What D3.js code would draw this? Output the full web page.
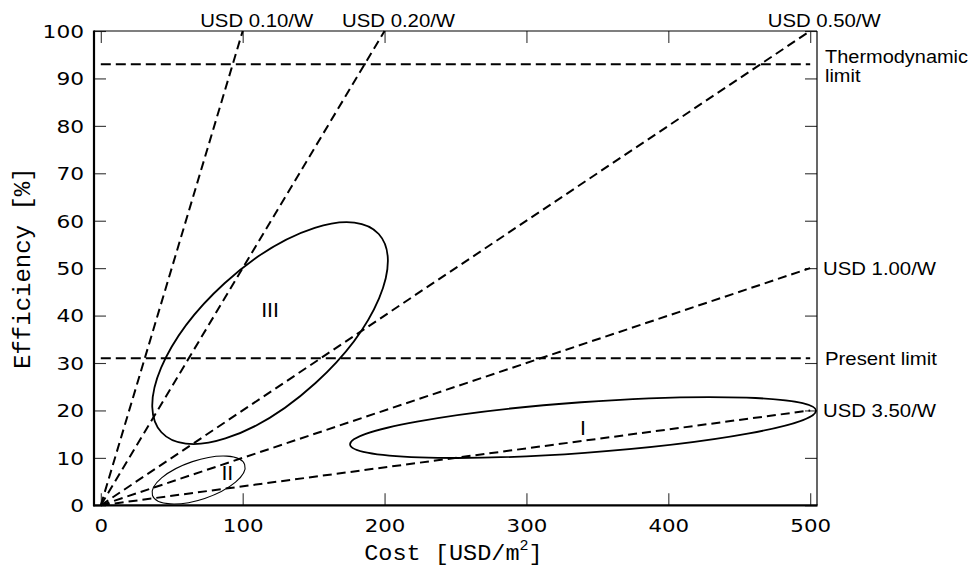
<!DOCTYPE html>
<html><head><meta charset="utf-8">
<script src="https://cdn.jsdelivr.net/npm/d3@7"></script>
<style>html,body{margin:0;background:#fff}</style>
</head><body>
<svg id="chart" width="973" height="573"></svg>
<script>
// Price-per-watt reference lines, each drawn from the origin to its end point
const priceLabels = ["USD 0.10/W", "USD 0.20/W", "USD 0.50/W", "USD 1.00/W", "USD 3.50/W"];
const priceEndCost = [100, 200, 500, 500, 500];
const priceEndEff = [100, 100, 100, 50, 20];

// Horizontal efficiency limits
const limitLabels = [["Thermodynamic", "limit"], ["Present limit"]];
const limitEff = [93, 31];

// Technology generations as ellipses: centre, end of major axis, end of minor axis
const regionNames = ["I", "II", "III"];
const regionCenterCost = [339.9, 68.9, 119.3];
const regionCenterEff = [16.4, 5.33, 36.3];
const regionMajorCost = [504.1, 101.4, 195.9];
const regionMajorEff = [19.97, 8.58, 57.2];
const regionMinorCost = [341.2, 73.2, 151.4];
const regionMinorEff = [11.07, 1.45, 25.8];
const regionLabelCost = [339.9, 89.2, 119.3];
const regionLabelEff = [16.4, 6.9, 41.2];

const xTicks = [0, 100, 200, 300, 400, 500];
const yTicks = [0, 10, 20, 30, 40, 50, 60, 70, 80, 90, 100];

const svg = d3.select("#chart");
const x = d3.scaleLinear().domain([0, 500]).range([100.8, 810.2]);
const y = d3.scaleLinear().domain([0, 100]).range([505.3, 31]);

const frameL = 94, frameR = 817, frameT = y(100), frameB = y(0);
const sans = "'Liberation Sans', Arial, sans-serif";
const mono = "'Liberation Mono', 'Courier New', monospace";
const tickFont = "'DejaVu Sans', sans-serif";

// widen text horizontally by a factor, keeping its anchor
function stretch(sel, f) {
  sel.each(function () {
    const w = this.getComputedTextLength();
    d3.select(this).attr("textLength", w * f).attr("lengthAdjust", "spacingAndGlyphs");
  });
}

// inward ticks on all four sides
const tickLen = 12;
const gLeft = svg.append("g").attr("transform", `translate(${frameL},0)`)
  .call(d3.axisLeft(y).tickValues(yTicks).tickSizeInner(-tickLen).tickSizeOuter(0).tickPadding(10));
const gRight = svg.append("g").attr("transform", `translate(${frameR},0)`)
  .call(d3.axisRight(y).tickValues(yTicks).tickSizeInner(-tickLen).tickSizeOuter(0).tickFormat(""));
const gTop = svg.append("g").attr("transform", `translate(0,${frameT})`)
  .call(d3.axisTop(x).tickValues(xTicks).tickSizeInner(-tickLen).tickSizeOuter(0).tickFormat(""));
const gBottom = svg.append("g").attr("transform", `translate(0,${frameB})`)
  .call(d3.axisBottom(x).tickValues(xTicks).tickSizeInner(-tickLen).tickSizeOuter(0).tickPadding(14));

[gLeft, gRight, gTop, gBottom].forEach(g => {
  g.select(".domain").remove();
  g.selectAll(".tick line").attr("stroke", "#333").attr("stroke-width", 1.1);
});
gLeft.selectAll(".tick text")
  .attr("font-family", tickFont).attr("font-size", 17.5).attr("fill", "#000")
  .attr("dy", "0.36em");
gBottom.selectAll(".tick text")
  .attr("font-family", tickFont).attr("font-size", 17.5).attr("fill", "#000")
  .attr("dy", "0.72em");
gLeft.selectAll(".tick text").call(stretch, 1.24);
gBottom.selectAll(".tick text").call(stretch, 1.22);

// frame: heavy left and bottom, light top and right
svg.append("line").attr("x1", frameL).attr("x2", frameR).attr("y1", frameT).attr("y2", frameT)
  .attr("stroke", "#000").attr("stroke-width", 1.2);
svg.append("line").attr("x1", frameR).attr("x2", frameR).attr("y1", frameT).attr("y2", frameB)
  .attr("stroke", "#000").attr("stroke-width", 1.2);
svg.append("line").attr("x1", frameL).attr("x2", frameL).attr("y1", frameT - 0.6).attr("y2", frameB + 1)
  .attr("stroke", "#000").attr("stroke-width", 2.2);
svg.append("line").attr("x1", frameL - 1).attr("x2", frameR + 0.6).attr("y1", frameB).attr("y2", frameB)
  .attr("stroke", "#000").attr("stroke-width", 2.2);

// horizontal limits
svg.append("g").selectAll("line").data(limitEff).join("line")
  .attr("x1", x(0)).attr("x2", x(500))
  .attr("y1", d => y(d)).attr("y2", d => y(d))
  .attr("stroke", "#000").attr("stroke-width", 2).attr("stroke-dasharray", "10,5");

// price-per-watt lines from the origin
const priceIdx = d3.range(priceLabels.length);
svg.append("g").selectAll("line").data(priceIdx).join("line")
  .attr("x1", x(0)).attr("y1", y(0))
  .attr("x2", i => x(priceEndCost[i])).attr("y2", i => y(priceEndEff[i]))
  .attr("stroke", "#000").attr("stroke-width", 2).attr("stroke-dasharray", "9,5");

// region ellipses
const regionIdx = d3.range(regionNames.length);
svg.append("g").selectAll("ellipse").data(regionIdx).join("ellipse")
  .each(function (i) {
    const cx = x(regionCenterCost[i]), cy = y(regionCenterEff[i]);
    const mx = x(regionMajorCost[i]) - cx, my = y(regionMajorEff[i]) - cy;
    const nx = x(regionMinorCost[i]) - cx, ny = y(regionMinorEff[i]) - cy;
    const ang = Math.atan2(my, mx) * 180 / Math.PI;
    d3.select(this).attr("cx", cx).attr("cy", cy)
      .attr("rx", Math.hypot(mx, my)).attr("ry", Math.hypot(nx, ny))
      .attr("transform", `rotate(${ang},${cx},${cy})`);
  })
  .attr("fill", "none").attr("stroke", "#000")
  .attr("stroke-width", i => regionNames[i] === "II" ? 1.1 : 1.8);

svg.append("g").selectAll("text").data(regionIdx).join("text")
  .attr("x", i => x(regionLabelCost[i])).attr("y", i => y(regionLabelEff[i]))
  .attr("dy", "0.36em").attr("text-anchor", "middle")
  .attr("font-family", sans).attr("font-size", 20).attr("fill", "#000")
  .text(i => regionNames[i])
  .call(stretch, 1.07);

// price labels: above the frame where the line meets the top, else to the right
svg.append("g").selectAll("text").data(priceIdx).join("text")
  .attr("font-family", sans).attr("font-size", 19).attr("fill", "#000")
  .each(function (i) {
    const t = d3.select(this);
    if (priceEndEff[i] === 100) {
      t.attr("x", x(priceEndCost[i]) + 14).attr("y", frameT - 4).attr("text-anchor", "middle");
    } else {
      t.attr("x", frameR + 6).attr("y", y(priceEndEff[i])).attr("dy", "0.36em").attr("text-anchor", "start");
    }
  })
  .text(i => priceLabels[i])
  .call(stretch, 1.07);

// limit labels at the right, one text element per line
limitEff.forEach((v, k) => {
  const lines = limitLabels[k];
  const size = lines.length > 1 ? 17.5 : 19;
  const step = 19;
  lines.forEach((s, j) => {
    svg.append("text")
      .attr("font-family", sans).attr("font-size", size).attr("fill", "#000")
      .attr("x", frameR + 8)
      .attr("y", y(v) + 7 - (lines.length - 1) * 8 + j * step)
      .text(s)
      .call(stretch, lines.length > 1 ? 1.14 : 1.07);
  });
});

// axis titles
svg.append("text")
  .attr("x", (x(0) + x(500)) / 2 - 2).attr("y", 560)
  .attr("text-anchor", "middle").attr("font-family", mono).attr("font-size", 22).attr("fill", "#000")
  .call(t => {
    t.append("tspan").text("Cost [USD/m");
    t.append("tspan").attr("font-size", 14).attr("dy", -10).text("2");
    t.append("tspan").attr("dy", 10).text("]");
  })
  .call(stretch, 1.07);

svg.append("text")
  .attr("transform", `translate(30,${(y(0) + y(100)) / 2}) rotate(-90)`)
  .attr("text-anchor", "middle").attr("font-family", mono).attr("font-size", 24).attr("fill", "#000")
  .text("Efficiency [%]");
</script>
</body></html>
